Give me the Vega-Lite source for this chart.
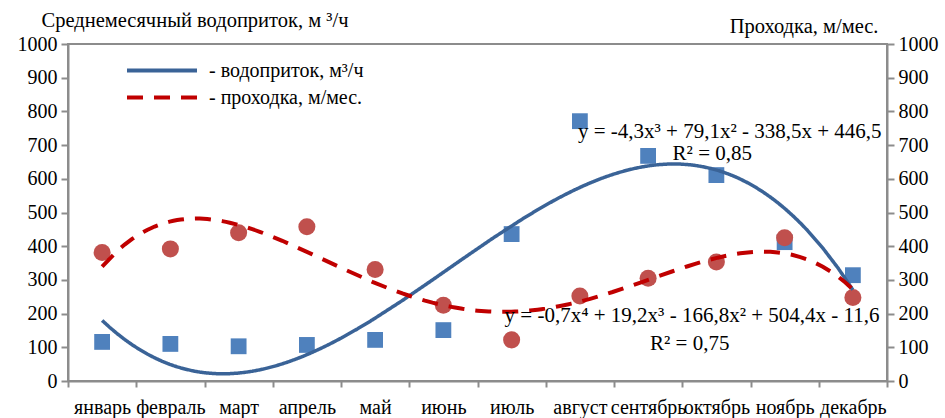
{
  "$schema": "https://vega.github.io/schema/vega-lite/v6.json",
  "width": 819,
  "height": 337,
  "autosize": {"type": "none"},
  "padding": {"left": 68, "top": 44, "right": 58, "bottom": 37},
  "background": "white",
  "config": {
    "font": "Liberation Serif",
    "view": {"stroke": "#8C8C8C", "strokeWidth": 2},
    "axis": {
      "labelFont": "Liberation Serif", "labelFontSize": 20, "labelColor": "#000000",
      "titleFont": "Liberation Serif", "titleFontSize": 20.5, "titleFontWeight": "normal", "titleColor": "#000000",
      "domainColor": "#8C8C8C", "domainWidth": 2, "tickColor": "#8C8C8C", "tickWidth": 2, "grid": false
    },
    "legend": {
      "orient": "none", "legendX": 57, "legendY": 13,
      "labelFont": "Liberation Serif", "labelFontSize": 20, "labelColor": "#000000",
      "symbolType": "stroke", "symbolSize": 4900, "symbolStrokeWidth": 4,
      "clipHeight": 27, "labelOffset": 10, "rowPadding": 0, "title": null
    }
  },
  "datasets": {
    "d": [
      {"m": 1, "month": "январь", "inflow": 116, "advance": 381},
      {"m": 2, "month": "февраль", "inflow": 110, "advance": 392},
      {"m": 3, "month": "март", "inflow": 103, "advance": 440},
      {"m": 4, "month": "апрель", "inflow": 107, "advance": 458},
      {"m": 5, "month": "май", "inflow": 122, "advance": 331},
      {"m": 6, "month": "июнь", "inflow": 151, "advance": 225},
      {"m": 7, "month": "июль", "inflow": 436, "advance": 122},
      {"m": 8, "month": "август", "inflow": 771, "advance": 252},
      {"m": 9, "month": "сентябрь", "inflow": 668, "advance": 305},
      {"m": 10, "month": "октябрь", "inflow": 611, "advance": 353},
      {"m": 11, "month": "ноябрь", "inflow": 412, "advance": 425},
      {"m": 12, "month": "декабрь", "inflow": 314, "advance": 248}
    ]
  },
  "layer": [
    {
      "data": {"name": "d"},
      "mark": {"type": "point", "shape": "square", "filled": true, "opacity": 1, "color": "#4F81BD", "size": 250},
      "encoding": {
        "x": {
          "field": "month", "type": "nominal", "sort": {"field": "m"},
          "scale": {"type": "band", "paddingInner": 0, "paddingOuter": 0},
          "axis": {"title": null, "tickBand": "extent", "labelAngle": 0, "tickSize": 6, "labelPadding": 10, "labelOverlap": false, "labelBound": false}
        },
        "y": {
          "field": "inflow", "type": "quantitative",
          "scale": {"domain": [0, 1000], "nice": false},
          "axis": {
            "orient": "left", "values": [0, 100, 200, 300, 400, 500, 600, 700, 800, 900, 1000], "format": "d",
            "title": "Среднемесячный водоприток, м ³/ч", "titleAngle": 0, "titleAlign": "left", "titleBaseline": "alphabetic",
            "titleX": -27, "titleY": -18, "tickSize": 7, "labelPadding": 4
          }
        }
      }
    },
    {
      "data": {"name": "d"},
      "mark": {"type": "point", "shape": "circle", "filled": true, "opacity": 1, "color": "#C0504D", "size": 290},
      "encoding": {
        "x": {
          "field": "month", "type": "nominal", "sort": {"field": "m"},
          "scale": {"type": "band", "paddingInner": 0, "paddingOuter": 0},
          "axis": null
        },
        "y": {
          "field": "advance", "type": "quantitative",
          "axis": {
            "orient": "right", "values": [0, 100, 200, 300, 400, 500, 600, 700, 800, 900, 1000], "format": "d",
            "title": "Проходка, м/мес.", "titleAngle": 0, "titleAlign": "right", "titleBaseline": "alphabetic",
            "titleX": -9, "titleY": -12, "tickSize": 7, "labelPadding": 4
          }
        }
      }
    },
    {
      "data": {"name": "d"},
      "transform": [{"regression": "inflow", "on": "m", "method": "poly", "order": 3, "extent": [1, 12]}],
      "mark": {"type": "line", "strokeWidth": 3.5},
      "encoding": {
        "x": {"field": "m", "type": "quantitative", "scale": {"domain": [0.5, 12.5], "nice": false, "zero": false}, "axis": null},
        "y": {"field": "inflow", "type": "quantitative", "axis": null},
        "color": {"datum": "- водоприток,  м³/ч", "scale": {"domain": ["- водоприток,  м³/ч", "- проходка, м/мес."], "range": ["#3A6397", "#C00000"]}},
        "strokeDash": {"datum": "- водоприток,  м³/ч", "scale": {"domain": ["- водоприток,  м³/ч", "- проходка, м/мес."], "range": [[1, 0], [16, 11]]}}
      }
    },
    {
      "data": {"name": "d"},
      "transform": [{"regression": "advance", "on": "m", "method": "poly", "order": 4, "extent": [1, 12]}],
      "mark": {"type": "line", "strokeWidth": 4},
      "encoding": {
        "x": {"field": "m", "type": "quantitative", "scale": {"domain": [0.5, 12.5], "nice": false, "zero": false}, "axis": null},
        "y": {"field": "advance", "type": "quantitative", "axis": null},
        "color": {"datum": "- проходка, м/мес."},
        "strokeDash": {"datum": "- проходка, м/мес."}
      }
    },
    {
      "data": {"values": [{"t": "y = -4,3x³ + 79,1x² - 338,5x + 446,5"}]},
      "mark": {"type": "text", "align": "right", "baseline": "alphabetic", "fontSize": 21, "font": "Liberation Serif", "color": "#000000"},
      "encoding": {
        "x": {"datum": 12.42, "type": "quantitative", "scale": {"domain": [0.5, 12.5], "nice": false, "zero": false}, "axis": null},
        "y": {"datum": 721, "type": "quantitative", "axis": null},
        "text": {"field": "t"}
      }
    },
    {
      "data": {"values": [{"t": "R² = 0,85"}]},
      "mark": {"type": "text", "align": "center", "baseline": "alphabetic", "fontSize": 21, "font": "Liberation Serif", "color": "#000000"},
      "encoding": {
        "x": {"datum": 9.94, "type": "quantitative", "scale": {"domain": [0.5, 12.5], "nice": false, "zero": false}, "axis": null},
        "y": {"datum": 656, "type": "quantitative", "axis": null},
        "text": {"field": "t"}
      }
    },
    {
      "data": {"values": [{"t": "y = -0,7x⁴ + 19,2x³ - 166,8x² + 504,4x - 11,6"}]},
      "mark": {"type": "text", "align": "right", "baseline": "alphabetic", "fontSize": 21, "font": "Liberation Serif", "color": "#000000"},
      "encoding": {
        "x": {"datum": 12.39, "type": "quantitative", "scale": {"domain": [0.5, 12.5], "nice": false, "zero": false}, "axis": null},
        "y": {"datum": 175, "type": "quantitative", "axis": null},
        "text": {"field": "t"}
      }
    },
    {
      "data": {"values": [{"t": "R² = 0,75"}]},
      "mark": {"type": "text", "align": "center", "baseline": "alphabetic", "fontSize": 21, "font": "Liberation Serif", "color": "#000000"},
      "encoding": {
        "x": {"datum": 9.61, "type": "quantitative", "scale": {"domain": [0.5, 12.5], "nice": false, "zero": false}, "axis": null},
        "y": {"datum": 92, "type": "quantitative", "axis": null},
        "text": {"field": "t"}
      }
    }
  ],
  "resolve": {"scale": {"x": "independent"}, "axis": {"y": "independent"}}
}
